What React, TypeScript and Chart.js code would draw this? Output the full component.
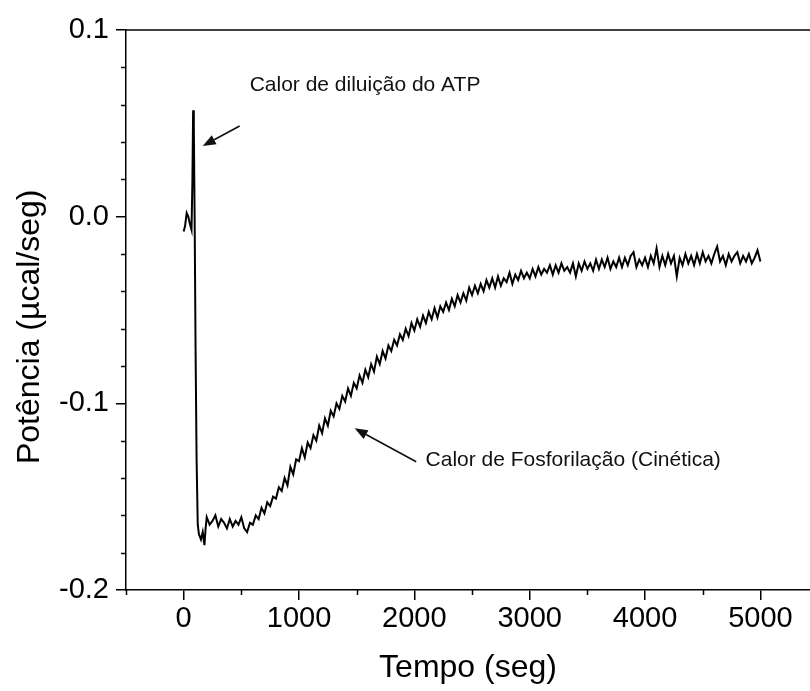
import React, { useEffect, useRef } from "react";
import { Chart, registerables } from "chart.js";

Chart.register(...registerables);

const FONT = '"Liberation Sans", Arial, Helvetica, sans-serif';

// time (s)
const timeSec = [
  0, 12, 26, 40, 55, 68, 76, 82, 88, 95, 103, 112, 122, 132, 150, 165, 180, 190,
  200, 225, 250, 275, 300, 325, 350, 375,
  400, 425, 450, 475, 500, 525, 550, 575,
  600, 625, 650, 675, 700, 725, 750, 775,
  800, 825, 850, 875, 900, 925, 950, 975,
  1000, 1025, 1050, 1075, 1100, 1125, 1150, 1175,
  1200, 1225, 1250, 1275, 1300, 1325, 1350, 1375,
  1400, 1425, 1450, 1475, 1500, 1525, 1550, 1575,
  1600, 1625, 1650, 1675, 1700, 1725, 1750, 1775,
  1800, 1825, 1850, 1875, 1900, 1925, 1950, 1975,
  2000, 2025, 2050, 2075, 2100, 2125, 2150, 2175,
  2200, 2225, 2250, 2275, 2300, 2325, 2350, 2375,
  2400, 2425, 2450, 2475, 2500, 2525, 2550, 2575,
  2600, 2625, 2650, 2675, 2700, 2725, 2750, 2775,
  2800, 2825, 2850, 2875, 2900, 2925, 2950, 2975,
  3000, 3025, 3050, 3075, 3100, 3125, 3150, 3175,
  3200, 3225, 3250, 3275, 3300, 3325, 3350, 3375,
  3400, 3425, 3450, 3475, 3500, 3525, 3550, 3575,
  3600, 3625, 3650, 3675, 3700, 3725, 3750, 3775,
  3800, 3825, 3850, 3875, 3900, 3925, 3950, 3975,
  4000, 4025, 4050, 4075, 4100, 4125, 4150, 4175,
  4200, 4225, 4250, 4275, 4300, 4325, 4350, 4375,
  4400, 4425, 4450, 4475, 4500, 4525, 4550, 4575,
  4600, 4625, 4650, 4675, 4700, 4725, 4750, 4775,
  4800, 4825, 4850, 4875, 4900, 4925, 4950, 4975,
  5000,
];

// power (µcal/s)
const power = [
  -0.008, -0.005, 0.002, 0.0, -0.004, -0.007, 0.02, 0.057, 0.048, 0.0, -0.07, -0.13, -0.165, -0.17, -0.173, -0.169, -0.176, -0.167,
  -0.161, -0.165, -0.163, -0.16, -0.166, -0.162, -0.164, -0.167,
  -0.162, -0.166, -0.163, -0.165, -0.161, -0.167, -0.169, -0.164,
  -0.165, -0.16, -0.162, -0.156, -0.159, -0.153, -0.155, -0.15,
  -0.151, -0.145, -0.147, -0.14, -0.144, -0.134, -0.138, -0.13,
  -0.131, -0.124, -0.129, -0.121, -0.124, -0.117, -0.12, -0.112,
  -0.116, -0.108, -0.112, -0.104, -0.107, -0.1, -0.103, -0.096,
  -0.099, -0.092, -0.096, -0.089, -0.092, -0.085, -0.089, -0.082,
  -0.086, -0.079, -0.083, -0.075, -0.079, -0.072, -0.076, -0.069,
  -0.072, -0.066, -0.069, -0.063, -0.066, -0.06, -0.064, -0.057,
  -0.061, -0.055, -0.059, -0.053, -0.057, -0.051, -0.055, -0.049,
  -0.054, -0.048, -0.051, -0.046, -0.05, -0.044, -0.048, -0.042,
  -0.046, -0.041, -0.045, -0.038, -0.042, -0.037, -0.041, -0.036,
  -0.04, -0.034, -0.038, -0.033, -0.038, -0.032, -0.037, -0.033,
  -0.035, -0.03, -0.036, -0.031, -0.034, -0.029, -0.033, -0.03,
  -0.033, -0.028, -0.032, -0.027, -0.031, -0.028, -0.03, -0.026,
  -0.031, -0.026, -0.03, -0.025, -0.029, -0.027, -0.03, -0.025,
  -0.032, -0.025, -0.029, -0.024, -0.028, -0.025, -0.029, -0.023,
  -0.028, -0.023, -0.027, -0.022, -0.028, -0.024, -0.027, -0.022,
  -0.027, -0.022, -0.026, -0.021, -0.019, -0.027, -0.023, -0.026,
  -0.022, -0.027, -0.021, -0.025, -0.017, -0.027, -0.021, -0.026,
  -0.02, -0.025, -0.021, -0.032, -0.022, -0.026, -0.02, -0.025,
  -0.021, -0.026, -0.02, -0.025, -0.019, -0.024, -0.021, -0.025,
  -0.02, -0.016, -0.024, -0.021, -0.026, -0.02, -0.024, -0.021,
  -0.019, -0.025, -0.021, -0.024, -0.02, -0.025, -0.022, -0.018,
  -0.024,
];

const xMajorTicks = [0, 1000, 2000, 3000, 4000, 5000];
const xMinorTicks = [-500, 500, 1500, 2500, 3500, 4500];
const yMajorTicks = [-0.2, -0.1, 0, 0.1];
const yMinorTicks = [-0.18, -0.16, -0.14, -0.12, -0.08, -0.06, -0.04, -0.02, 0.02, 0.04, 0.06, 0.08];

const xTitle = "Tempo (seg)";
const yTitle = "Potência (µcal/seg)";

// annotation texts with anchor points in data units
const noteTexts = ["Calor de diluição do ATP", "Calor de Fosforilação (Cinética)"];
const noteAnchors = [
  { tx: 572, ty: 0.0705, fromX: 485, fromY: 0.0486, toX: 165, toY: 0.0379 },
  { tx: 2097, ty: -0.1303, fromX: 2016, fromY: -0.1313, toX: 1482, toY: -0.1134 },
];
// y-axis title anchor (value on y scale where its centre sits)
const yTitleCenter = -0.059;

const decorPlugin = {
  id: "decor",
  afterDraw(chart: any) {
    const { ctx, chartArea, scales } = chart;
    const xs = scales.x;
    const ys = scales.y;
    ctx.save();
    ctx.strokeStyle = "#000";
    ctx.lineWidth = 1.5;
    // top frame line
    ctx.beginPath();
    ctx.moveTo(chartArea.left, chartArea.top);
    ctx.lineTo(chartArea.right + 2, chartArea.top);
    ctx.stroke();
    // minor ticks
    ctx.beginPath();
    for (const v of xMinorTicks) {
      const px = Math.round(xs.getPixelForValue(v)) + 0.5;
      ctx.moveTo(px, chartArea.bottom);
      ctx.lineTo(px, chartArea.bottom + 5);
    }
    for (const v of yMinorTicks) {
      const py = Math.round(ys.getPixelForValue(v)) + 0.5;
      ctx.moveTo(chartArea.left, py);
      ctx.lineTo(chartArea.left - 5, py);
    }
    ctx.stroke();
    // y-axis title
    ctx.save();
    ctx.fillStyle = "#000";
    ctx.font = `32px ${FONT}`;
    ctx.textAlign = "center";
    ctx.textBaseline = "middle";
    ctx.translate(30, ys.getPixelForValue(yTitleCenter));
    ctx.rotate(-Math.PI / 2);
    ctx.fillText(yTitle, 0, 0);
    ctx.restore();
    // annotations
    ctx.fillStyle = "#111";
    ctx.font = `21px ${FONT}`;
    ctx.textAlign = "left";
    ctx.textBaseline = "middle";
    noteAnchors.forEach((a, i) => {
      ctx.fillText(noteTexts[i], xs.getPixelForValue(a.tx), ys.getPixelForValue(a.ty));
      const x0 = xs.getPixelForValue(a.fromX);
      const y0 = ys.getPixelForValue(a.fromY);
      const x1 = xs.getPixelForValue(a.toX);
      const y1 = ys.getPixelForValue(a.toY);
      const ang = Math.atan2(y1 - y0, x1 - x0);
      const hl = 13;
      const hw = 5;
      const bx = x1 - hl * Math.cos(ang);
      const by = y1 - hl * Math.sin(ang);
      ctx.strokeStyle = "#111";
      ctx.lineWidth = 1.6;
      ctx.beginPath();
      ctx.moveTo(x0, y0);
      ctx.lineTo(bx, by);
      ctx.stroke();
      ctx.beginPath();
      ctx.moveTo(x1, y1);
      ctx.lineTo(bx + hw * Math.sin(ang), by - hw * Math.cos(ang));
      ctx.lineTo(bx - hw * Math.sin(ang), by + hw * Math.cos(ang));
      ctx.closePath();
      ctx.fill();
    });
    ctx.restore();
  },
};

export default function App() {
  const canvasRef = useRef<HTMLCanvasElement | null>(null);

  useEffect(() => {
    const canvas = canvasRef.current;
    if (!canvas) return;
    const points = timeSec.map((t, i) => ({ x: t, y: power[i] }));
    const chart = new Chart(canvas, {
      type: "line",
      data: {
        datasets: [
          {
            data: points,
            borderColor: "#000",
            borderWidth: 2,
            pointRadius: 0,
            tension: 0,
            fill: false,
          },
        ],
      },
      options: {
        animation: false,
        responsive: false,
        devicePixelRatio: 1,
        layout: { padding: { top: 30, left: 0, right: 0, bottom: 0 } },
        plugins: {
          legend: { display: false },
          tooltip: { enabled: false },
        },
        scales: {
          x: {
            type: "linear",
            min: -500,
            max: 5430,
            afterBuildTicks: (s: any) => {
              s.ticks = xMajorTicks.map((v) => ({ value: v }));
            },
            afterFit: (s: any) => {
              s.height = 101;
            },
            ticks: {
              autoSkip: false,
              maxRotation: 0,
              color: "#000",
              padding: 2,
              font: { family: FONT, size: 29 },
              callback: (v: any) => String(v),
            },
            grid: {
              display: true,
              drawOnChartArea: false,
              drawTicks: true,
              tickLength: 10,
              color: "#000",
              lineWidth: 1.5,
            },
            border: { display: true, color: "#000", width: 1.5 },
            title: {
              display: true,
              text: xTitle,
              color: "#000",
              font: { family: FONT, size: 32 },
              padding: { top: 0, bottom: 4 },
            },
          },
          y: {
            type: "linear",
            min: -0.2,
            max: 0.1,
            afterBuildTicks: (s: any) => {
              s.ticks = yMajorTicks.map((v) => ({ value: v }));
            },
            afterFit: (s: any) => {
              s.width = 126;
            },
            ticks: {
              color: "#000",
              padding: 7,
              font: { family: FONT, size: 29 },
              callback: (v: any) => Number(v).toFixed(1),
            },
            grid: {
              display: true,
              drawOnChartArea: false,
              drawTicks: true,
              tickLength: 10,
              color: "#000",
              lineWidth: 1.5,
            },
            border: { display: true, color: "#000", width: 1.5 },
            title: { display: false },
          },
        },
      },
      plugins: [decorPlugin],
    });
    return () => chart.destroy();
  }, []);

  return (
    <div style={{ position: "absolute", left: 0, top: 0, width: 810, height: 691, overflow: "hidden", background: "#fff" }}>
      <canvas ref={canvasRef} width={810} height={691} style={{ width: 810, height: 691, display: "block" }} />
    </div>
  );
}
